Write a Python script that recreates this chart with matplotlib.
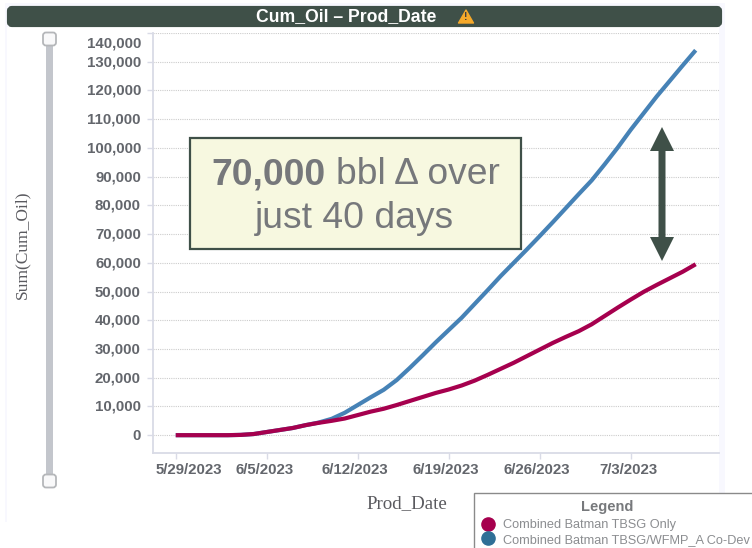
import matplotlib
matplotlib.use("Agg")
import matplotlib.pyplot as plt
import matplotlib.dates as mdates
import matplotlib.transforms as mtrans
from matplotlib.lines import Line2D
from matplotlib.patches import Rectangle, Polygon, FancyBboxPatch
import pandas as pd

# values, one per day from 5/29/2023
jours = pd.date_range("2023-05-29", "2023-07-08", freq="D")
tbsg_only = [0, 0, 0, 0, 0, 100, 400, 1100, 1800, 2500, 3500, 4300, 5000, 5800,
             7000, 8200, 9200, 10500, 11900, 13300, 14700, 15900, 17300, 19000,
             21000, 23100, 25200, 27500, 29800, 32100, 34200, 36200, 38600,
             41500, 44400, 47200, 49900, 52300, 54600, 56900, 59500]
tbsg_wfmp = [0, 0, 0, 0, 0, 100, 400, 1100, 1800, 2500, 3500, 4400, 5700, 7800,
             10500, 13200, 15800, 19200, 23400, 27800, 32300, 36600, 40900, 45700,
             50500, 55400, 60000, 64600, 69300, 74100, 79000, 83900, 88700,
             94300, 100100, 106300, 112100, 117900, 123300, 128700, 134000]
y_ticks = list(range(0, 140001, 10000))
x_ticks = ["2023-05-29", "2023-06-05", "2023-06-12", "2023-06-19", "2023-06-26", "2023-07-03"]
x_labels = ["5/29/2023", "6/5/2023", "6/12/2023", "6/19/2023", "6/26/2023", "7/3/2023"]
noms = ["Combined Batman TBSG Only", "Combined Batman TBSG/WFMP_A Co-Dev"]

VERT = "#3f5048"
ROUGE = "#a6004e"
BLEU = "#4682b6"
GRIS = "#63666c"
W, H = 752, 548

plt.rcParams["font.family"] = ["Liberation Sans", "DejaVu Sans"]
fig = plt.figure(figsize=(W / 100, H / 100), dpi=100)


def axe_pixels(z):
    # axe couvrant toute la figure, en pixels de l'image
    a = fig.add_axes([0, 0, 1, 1], zorder=z)
    a.set_xlim(0, W)
    a.set_ylim(H, 0)
    a.axis("off")
    return a


def decaler(t, dx, dy):
    # deplace un label de graduation, en pixels
    t.set_transform(t.get_transform() + mtrans.ScaledTranslation(dx / 100, dy / 100, fig.dpi_scale_trans))


fond = axe_pixels(0)
fond.add_patch(Rectangle((5, 3), 720, 519, fc="#f8f8fe", ec="none"))
fond.add_patch(Rectangle((7, 27), 712, 495, fc="white", ec="none"))

# courbes
ax = fig.add_axes([153 / W, 1 - 452.7 / H, 565.7 / W, 419.7 / H], zorder=2)
ax.patch.set_visible(False)
ax.plot(jours, tbsg_wfmp, color=BLEU, lw=3, solid_capstyle="butt")
ax.plot(jours, tbsg_only, color=ROUGE, lw=3, solid_capstyle="butt")

ax.set_ylim(-6100, 140000)
d0 = mdates.date2num(pd.Timestamp("2023-05-29"))
ax.set_xlim(d0 - 1.75, d0 + 41.77)
ax.set_yticks(y_ticks)
ax.set_yticklabels([f"{v:,}" for v in y_ticks])
ax.set_xticks([mdates.date2num(pd.Timestamp(d)) for d in x_ticks])
ax.set_xticklabels(x_labels)
ax.grid(True, axis="y", color="#cccccc", lw=0.8, ls=(0, (1, 1)))
ax.set_axisbelow(True)
for s in ["top", "right"]:
    ax.spines[s].set_visible(False)
for s in ["left", "bottom"]:
    ax.spines[s].set_color("#d9dbe6")
    ax.spines[s].set_linewidth(1.3)
ax.tick_params(axis="both", color="#d9dbe6", width=1, length=4.5, pad=3,
               labelsize=10.8, labelcolor=GRIS)
ax.tick_params(axis="y", pad=4.2)
for t in ax.get_xticklabels() + ax.get_yticklabels():
    t.set_fontweight("bold")

# les dates ne sont pas tout a fait centrees sur leur graduation
for i, t in enumerate(ax.get_xticklabels()):
    decaler(t, 13 if i == 0 else -2.5, 0)
# le label du haut est descendu, les autres un peu remontes
for i, t in enumerate(ax.get_yticklabels()):
    decaler(t, 0, -8.5 if i == len(y_ticks) - 1 else 1)

dessus = axe_pixels(5)

# bandeau de titre
dessus.add_patch(FancyBboxPatch((9, 8), 711, 17, boxstyle="round,pad=0,rounding_size=3",
                                fc=VERT, ec=VERT, lw=3))
dessus.text(346, 16.5, "Cum_Oil – Prod_Date", color="white", fontsize=12.7,
            fontweight="bold", ha="center", va="center")
dessus.add_patch(Polygon([[466, 10], [458.5, 23], [473.5, 23]], closed=True, fc="#f6a92a",
                         ec="#f6a92a", lw=1, joinstyle="round"))
dessus.text(466, 17.5, "!", color="#3f3f3f", fontsize=7.5, fontweight="bold",
            ha="center", va="center")

# curseur vertical
dessus.add_patch(Rectangle((46, 44), 7, 430, fc="#c3c6cc", ec="none"))
for yc in [39, 481]:
    dessus.add_patch(FancyBboxPatch((43, yc - 6.5), 13, 13, boxstyle="round,pad=0,rounding_size=3",
                                    fc="#f9f9fa", ec="#b5b7ba", lw=1.3))

# titres des axes
dessus.text(22, 245, "Sum(Cum_Oil)", family="Liberation Serif", fontsize=12.6, color="#5a5a5f",
            rotation=90, ha="center", va="center")
dessus.text(407, 504, "Prod_Date", family="Liberation Serif", fontsize=13.6, color="#5a5a5f",
            ha="center", va="center")

# encadre
dessus.add_patch(Rectangle((190, 138), 331, 111, fc="#f7f8e0", ec=VERT, lw=1.6))
dessus.text(211, 175, "70,000", color="#76787b", fontsize=26.8, fontweight="bold",
            ha="left", va="center")
dessus.text(336, 175, "bbl Δ over", color="#76787b", fontsize=26.8, ha="left", va="center")
dessus.text(354.5, 219, "just 40 days", color="#76787b", fontsize=26.8, ha="center", va="center")

# fleche double
dessus.add_patch(Polygon([[662, 127], [674, 151], [665.5, 151], [665.5, 237], [674, 237],
                          [662, 261], [650, 237], [658.5, 237], [658.5, 151], [650, 151]],
                         closed=True, fc=VERT, ec="none"))

# legende, coupee par le bord de l'image comme sur l'original
poignees = [Line2D([], [], ls="none", marker="o", ms=9.5, color=ROUGE),
            Line2D([], [], ls="none", marker="o", ms=9.5, color="#2f6f96")]
leg = dessus.legend(poignees, noms, title="Legend", loc="lower left",
                    bbox_to_anchor=(474 / W, -6.8 / H, 300 / W, 60 / H), bbox_transform=fig.transFigure,
                    mode="expand", fontsize=9.15, labelcolor="#8b8d90", frameon=True, fancybox=False,
                    framealpha=1, edgecolor="#8a8a8a", handlelength=0.8, handletextpad=0.75,
                    labelspacing=0.2, borderaxespad=0, borderpad=0.72)
leg.get_title().set_fontsize(10.5)
leg.get_title().set_fontweight("bold")
leg.get_title().set_color("#77797c")
leg.get_title().set_position((-17, 3))

fig.savefig("out.png", dpi=100)
